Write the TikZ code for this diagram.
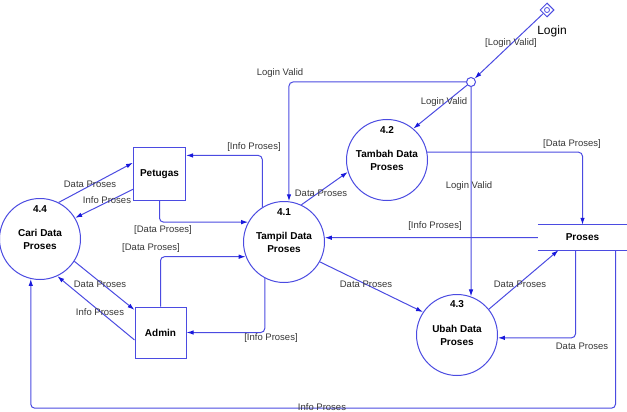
\documentclass[tikz,border=0pt]{standalone}
\usepackage{fontspec}
\setmainfont{Liberation Sans}
\usetikzlibrary{shapes.geometric,arrows.meta,calc}

\definecolor{dfdline}{RGB}{75,75,225}
\definecolor{dfdtip}{RGB}{25,25,220}
\definecolor{dfdtext}{RGB}{55,55,55}

\begin{document}
\begin{tikzpicture}[x=1pt, y=-1pt,
	flow/.style={draw=dfdline, line width=1pt, rounded corners=4pt, -{Latex[length=7pt,width=4.5pt,color=dfdtip]}},
	proc/.style={circle, draw=dfdline, line width=1pt, minimum size=81pt, inner sep=0pt, align=center, font=\bfseries\fontsize{10}{13}\selectfont},
	num/.style={font=\bfseries\fontsize{10}{12}\selectfont},
	ent/.style={rectangle, draw=dfdline, line width=1pt, minimum width=52pt, minimum height=53pt, font=\bfseries\fontsize{10}{12}\selectfont},
	store/.style={rectangle, minimum width=89pt, minimum height=25pt, font=\bfseries\fontsize{10}{12}\selectfont},
	lbl/.style={text=dfdtext, font=\fontsize{9.5}{11}\selectfont, inner sep=1pt}]

	\useasboundingbox (0,0) rectangle (627,412);

	% processes
	\node[proc] (p41) at (284,242) {Tampil Data\\Proses};
	\node[proc] (p42) at (387,160) {Tambah Data\\Proses};
	\node[proc] (p43) at (457,335) {Ubah Data\\Proses};
	\node[proc] (p44) at (40,239) {Cari Data\\Proses};
	\node[num] (n41) at ($(p41)+(0,-30)$) {4.1};
	\node[num] (n42) at ($(p42)+(0,-30)$) {4.2};
	\node[num] (n43) at ($(p43)+(0,-31)$) {4.3};
	\node[num] (n44) at ($(p44)+(0,-30)$) {4.4};

	% entities and store
	\node[ent] (pet) at (159.5,174) {Petugas};
	\node[ent, minimum width=51pt, minimum height=51pt] (adm) at (160.5,332.5) {Admin};
	\node[store] (st) at (582.5,237.5) {Proses};
	\draw[dfdline, line width=1pt] (st.north west) -- (st.north east) (st.south west) -- (st.south east);

	% login
	\node[diamond, draw=dfdline, line width=1pt, minimum size=14pt, inner sep=0pt] (login) at (547,10) {};
	\draw[dfdline, line width=0.8pt] (login.center) circle (2.5pt);
	\node[font=\fontsize{12}{14}\selectfont] (loginlbl) at (552,31) {Login};
	\node[circle, draw=dfdline, line width=1pt, fill=white, minimum size=9pt, inner sep=0pt] (jn) at (471,82) {};

	\draw[flow] (login) -- (jn);
	\draw[flow] (jn.west) -| (p41.83);
	\draw[flow] (jn) -- (p42.50);
	\draw[flow] (jn.south) -- (p43.70);

	% flows round 4.1
	\draw[flow] (p41.122) |- (pet.35);
	\draw[flow] (pet.south) |- (p41.151);
	\draw[flow] (adm.north) |- (p41.201);
	\draw[flow] (p41.242) |- (adm.east);
	\draw[flow] (p41.65) -- (p42.197);
	\draw[flow] (p41.331) -- (p43.146);
	\draw[flow] (st.west) -- (p41.6);

	% flows round 4.4
	\draw[flow] (p44.63) -- (pet.157);
	\draw[flow] (pet.210) -- (p44.31);
	\draw[flow] (p44.327) -- (adm.139);
	\draw[flow] (adm.196) -- (p44.295);

	% flows round the store
	\draw[flow] (p42.11) -| (st.north);
	\draw[flow] (p43.39) -- ($(st.south)+(-24,0)$);
	\draw[flow] ($(st.south)+(-7,0)$) |- (p43.356);
	\draw[flow] ($(st.south)+(33,0)$) -- ++(0,158) -| (p44.257);

	% labels
	\node[lbl] (l1) at (511,43) {[Login Valid]};
	\node[lbl] (l2) at (280,73) {Login Valid};
	\node[lbl] (l3) at (444,102) {Login Valid};
	\node[lbl] (l4) at (469,186) {Login Valid};
	\node[lbl] (l5) at (254,147) {[Info Proses]};
	\node[lbl] (l6) at (90,184) {Data Proses};
	\node[lbl] (l7) at (107,200) {Info Proses};
	\node[lbl] (l8) at (163,230) {[Data Proses]};
	\node[lbl] (l9) at (151,248) {[Data Proses]};
	\node[lbl] (l10) at (100,284) {Data Proses};
	\node[lbl] (l11) at (100,312) {Info Proses};
	\node[lbl] (l12) at (271,338) {[Info Proses]};
	\node[lbl] (l13) at (321,193) {Data Proses};
	\node[lbl] (l14) at (572,144) {[Data Proses]};
	\node[lbl] (l15) at (435,226) {[Info Proses]};
	\node[lbl] (l16) at (366,284) {Data Proses};
	\node[lbl] (l17) at (520,284) {Data Proses};
	\node[lbl] (l18) at (582,346) {Data Proses};
	\node[lbl] (l19) at (322,407) {Info Proses};

\end{tikzpicture}
\end{document}
